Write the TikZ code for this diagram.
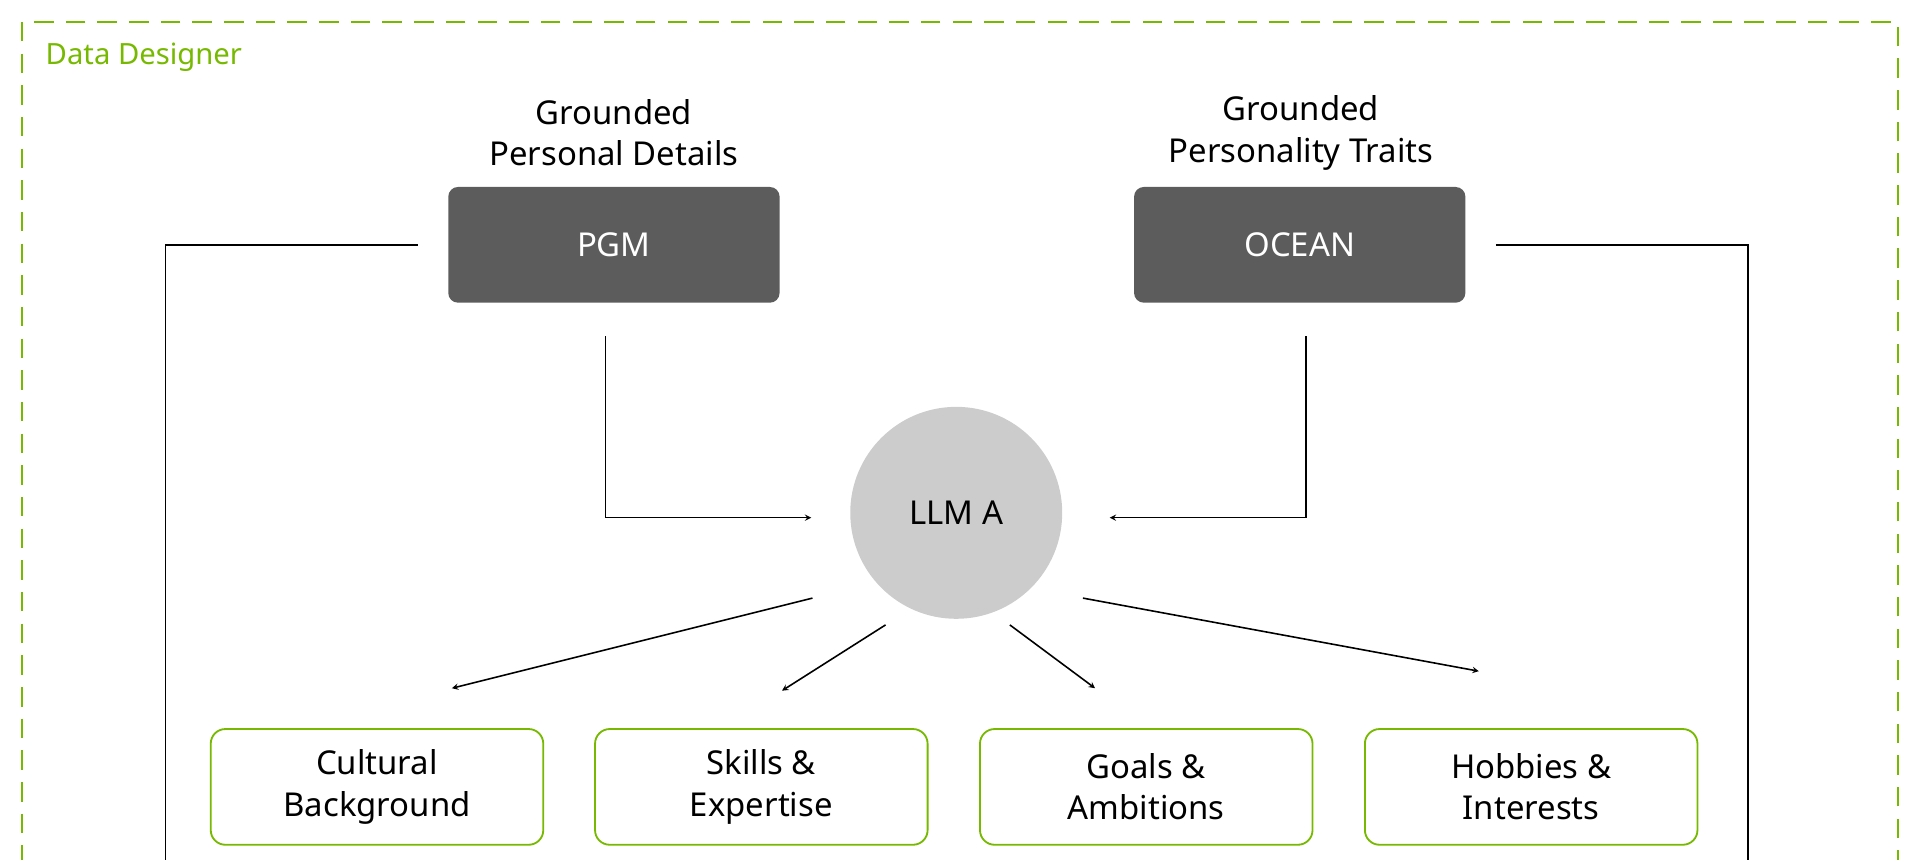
\documentclass[tikz,border=0pt]{standalone}
\usepackage{fontspec}
\setmainfont{Noto Sans}
\usetikzlibrary{positioning}
\definecolor{nvgreen}{HTML}{76B900}
\definecolor{darkbox}{HTML}{5C5C5C}
\definecolor{llmgray}{HTML}{CCCCCC}
\tikzset{
    model/.style={rectangle, rounded corners=8pt, fill=darkbox, text=white,
        minimum width=272pt, minimum height=95pt, font=\fontsize{27}{32}\selectfont},
    output/.style={rectangle, rounded corners=12pt, draw=nvgreen, line width=1.5pt,
        minimum width=273pt, minimum height=95pt, align=center,
        font=\fontsize{27}{34}\selectfont},
    caption/.style={align=center, font=\fontsize{27}{34}\selectfont},
    link/.style={line width=1.3pt, -stealth}
}
\begin{document}
\begin{tikzpicture}[x=1pt, y=-1pt]
                \useasboundingbox (0,0) rectangle (1568,706);
                \begin{scope}
                    \clip (0,0) rectangle (1568,706);
                    \draw[nvgreen, line width=2pt, dash pattern=on 16pt off 10pt] (18,18) rectangle (1558,740);
                \end{scope}
                \node[anchor=west, text=nvgreen, font=\fontsize{24}{28}\selectfont\bfseries] (title) at (34,47) {Data Designer};

                \node[model] (pgm) at (504,201) {PGM};
                \node[model] (ocean) at (1067,201) {OCEAN};
                \node[caption] (pgmcap) at (504,109) {Grounded\\Personal Details};
                \node[caption] (oceancap) at (1068,109) {Grounded\\Personality Traits};

                \node[circle, fill=llmgray, minimum size=174pt, font=\fontsize{27}{32}\selectfont] (llm) at (785,421) {LLM A};

                \node[output] (cult) at (309.5,646) {Cultural\\Background};
                \node[output] (skill) at (625,646) {Skills \&\\Expertise};
                \node[output] (goal) at (941,646) {Goals \&\\Ambitions};
                \node[output] (hobby) at (1257,646) {Hobbies \&\\Interests};

                % connector ends
                \coordinate (pl) at (343,201);
                \coordinate (pldown) at (136,720);
                \coordinate (or) at (1228,201);
                \coordinate (ordown) at (1435,720);
                \coordinate (pgmout) at (497,276);
                \coordinate (llmleft) at (666,425);
                \coordinate (oceanout) at (1072,276);
                \coordinate (llmright) at (911,425);

                \draw[line width=1.3pt] (pl) -| (pldown);
                \draw[line width=1.3pt] (or) -| (ordown);
                \draw[link] (pgmout) |- (llmleft);
                \draw[link] (oceanout) |- (llmright);

                \coordinate (f1) at (667,491);
                \coordinate (f2) at (727,513);
                \coordinate (f3) at (829,513);
                \coordinate (f4) at (889,491);
                \coordinate (t1) at (371,565);
                \coordinate (t2) at (642,567);
                \coordinate (t3) at (899,565);
                \coordinate (t4) at (1214,551);
                \draw[link] (f1) -- (t1);
                \draw[link] (f2) -- (t2);
                \draw[link] (f3) -- (t3);
                \draw[link] (f4) -- (t4);
            \end{tikzpicture}
\end{document}
